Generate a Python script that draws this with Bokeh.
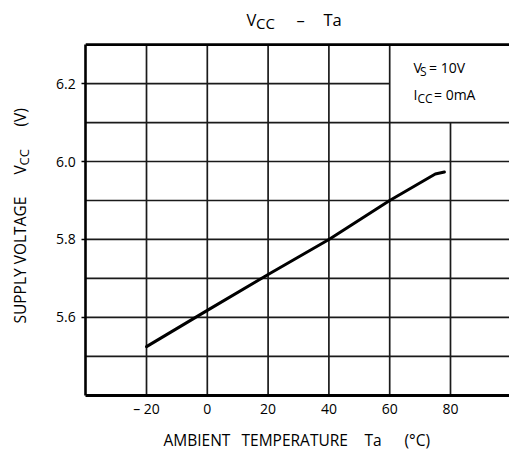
import math
from bokeh.plotting import figure
from bokeh.models import Range1d, FixedTicker, Label
from bokeh.embed import file_html
from bokeh.resources import INLINE

# ---- data ----
temp = [-20, 0, 20, 40, 60, 75, 78]
vcc = [5.525, 5.618, 5.71, 5.80, 5.90, 5.968, 5.973]
x_ticks = [-20, 0, 20, 40, 60, 80]
y_ticks = [5.6, 5.8, 6.0, 6.2]
y_grid = [5.5, 5.6, 5.7, 5.8, 5.9, 6.0, 6.1, 6.2]
x_lo, x_hi = -40, 99.41      # plotting area
y_lo, y_hi = 5.4, 6.3
# whole canvas range (so that outer texts lie inside the frame)
cx0, cx1 = -68.03, 99.41
cy0, cy1 = 5.2534, 6.4131

FONT = "Open Sans"
W, H = 509, 452

p = figure(width=W, height=H, output_backend="svg", toolbar_location=None,
           x_range=Range1d(cx0, cx1), y_range=Range1d(cy0, cy1),
           min_border=0, min_border_left=0, min_border_right=0,
           min_border_top=0, min_border_bottom=0)
p.title.visible = False
p.outline_line_color = None
p.xgrid.visible = False
p.ygrid.visible = False
p.background_fill_color = "white"
p.border_fill_color = "white"

# grid (legend box area left free)
gx0, gy0, gx1, gy1 = [], [], [], []
for xv in x_ticks:
    gx0.append(xv); gx1.append(xv); gy0.append(y_lo)
    gy1.append(6.1 if xv >= 80 else y_hi)
for yv in y_grid:
    gy0.append(yv); gy1.append(yv); gx0.append(x_lo)
    gx1.append(60 if yv > 6.15 else x_hi)
p.segment(gx0, gy0, gx1, gy1, line_color="#1a1a1a", line_width=1.7)

# top border
p.segment([x_lo], [y_hi], [x_hi], [y_hi], line_color="black", line_width=2.6)

# data line
p.line(temp, vcc, line_color="black", line_width=3, line_join="round", line_cap="round")

# axes
xa = p.xaxis[0]
xa.fixed_location = y_lo
xa.bounds = (x_lo, x_hi)
xa.ticker = FixedTicker(ticks=x_ticks)
xa.major_label_overrides = {-20: "\u2013 20"}
xa.axis_line_width = 3
xa.axis_line_color = "black"
xa.major_tick_out = 0
xa.major_tick_in = 0
xa.minor_tick_out = 0
xa.minor_tick_in = 0
xa.major_label_standoff = 4
xa.major_label_text_font = FONT
xa.major_label_text_font_size = "14px"
xa.major_label_text_color = "black"

ya = p.yaxis[0]
ya.fixed_location = x_lo
ya.bounds = (y_lo, y_hi)
ya.ticker = FixedTicker(ticks=y_ticks)
ya.major_label_overrides = {5.6: "5.6", 5.8: "5.8", 6.0: "6.0", 6.2: "6.2"}
ya.axis_line_width = 2.6
ya.axis_line_color = "black"
ya.major_tick_out = 4
ya.major_tick_in = 0
ya.major_tick_line_width = 1.5
ya.minor_tick_out = 0
ya.minor_tick_in = 0
ya.major_label_standoff = 6
ya.major_label_text_font = FONT
ya.major_label_text_font_size = "14px"
ya.major_label_text_color = "black"

K = 0.45  # baseline correction (em)


def lab(text, px, py, size, align="left", rot=False):
    if rot:
        sx, sy, ang = px - K * size, H - py, math.pi / 2
    else:
        sx, sy, ang = px, H - py + K * size, 0.0
    p.add_layout(Label(x=sx, y=sy, x_units="screen", y_units="screen",
                       text=text, text_font=FONT, text_font_size=f"{size}px",
                       text_color="black", text_align=align,
                       text_baseline="alphabetic", angle=ang))


# title  V_CC – Ta
lab("V", 246, 26, 16.5)
lab("CC", 255.5, 29, 15)
lab("\u2013", 300, 26, 16.5, "center")
lab("Ta", 323, 26, 16.5)

# legend text
lab("V", 413, 73, 14)
lab("S", 419.5, 76.5, 12)
lab("= 10V", 428.5, 73, 14)
lab("I", 413, 100, 14)
lab("CC", 417, 103, 12)
lab("= 0mA", 433.5, 100, 14)

# x axis label
lab("AMBIENT", 163, 446, 15.5)
lab("TEMPERATURE", 241, 446, 15.5)
lab("Ta", 364, 446, 15.5)
lab("(\u00b0C)", 404, 446, 15.5)

# y axis label (rotated, reads bottom to top)
lab("SUPPLY VOLTAGE", 26, 323, 15.5, "left", True)
lab("V", 26, 174, 15.5, "left", True)
lab("CC", 29.5, 165, 13, "left", True)
lab("(V)", 26, 126, 15.5, "left", True)

open("out.html", "w").write(file_html(p, INLINE))
